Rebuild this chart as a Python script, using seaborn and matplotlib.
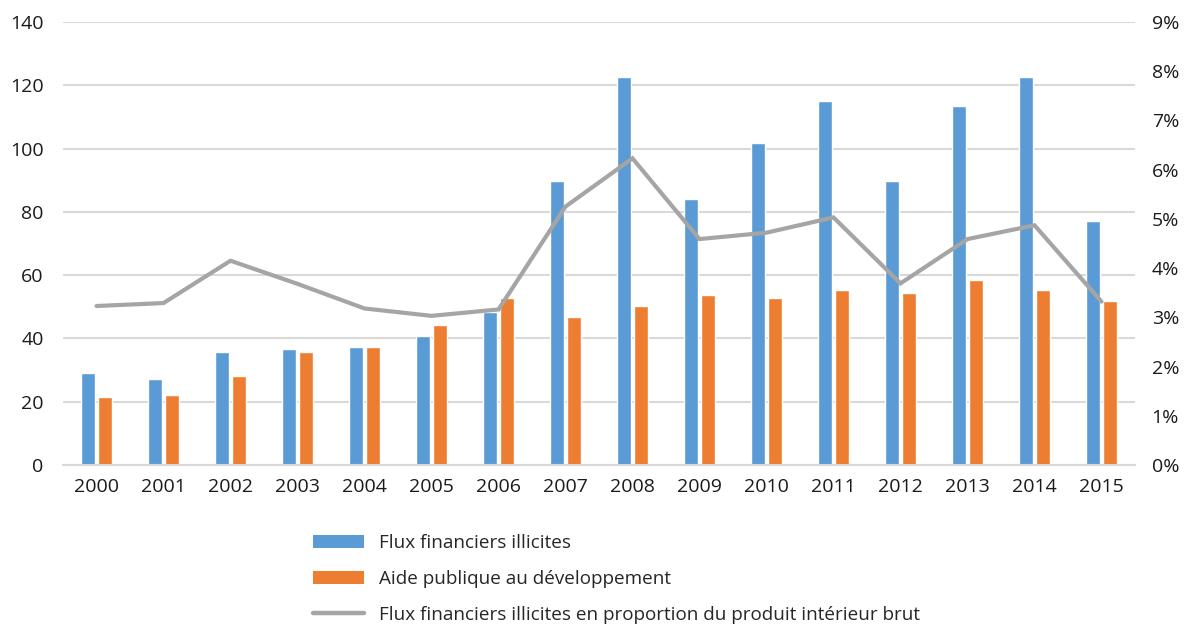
import matplotlib
matplotlib.use("Agg")
import matplotlib.pyplot as plt
import seaborn as sns
import pandas as pd
from matplotlib.patches import Patch
from matplotlib.lines import Line2D
from matplotlib.ticker import FuncFormatter

years = [str(y) for y in range(2000, 2016)]
flux_illicites = [29.1, 27.3, 35.8, 36.6, 37.4, 40.8, 48.4, 89.8, 122.6, 84.0, 101.7, 115.0, 89.8, 113.4, 122.6, 77.1]
aide_publique = [21.5, 22.2, 28.1, 35.8, 37.4, 44.2, 52.7, 46.7, 50.3, 53.6, 52.7, 55.2, 54.4, 58.6, 55.2, 51.8]
flux_pct_pib = [3.23, 3.29, 4.15, 3.68, 3.18, 3.03, 3.16, 5.25, 6.23, 4.59, 4.72, 5.03, 3.69, 4.59, 4.87, 3.32]

s_blue = "Flux financiers illicites"
s_orange = "Aide publique au développement"
s_line = "Flux financiers illicites en proportion du produit intérieur brut"

c_blue = "#5B9BD5"
c_orange = "#ED7D31"
c_gray = "#A5A5A5"

sns.set_theme(style="white")
plt.rcParams['font.family'] = ['Open Sans', 'DejaVu Sans']

df = pd.DataFrame({
    "year": years * 2,
    "value": flux_illicites + aide_publique,
    "serie": [s_blue] * len(years) + [s_orange] * len(years),
})

fig = plt.figure(figsize=(11.89, 6.30), dpi=100)
ax = fig.add_axes([63/1189, 1 - 465/630, (1135 - 63)/1189, (465 - 22)/630])

sns.barplot(data=df, x="year", y="value", hue="serie", order=years,
            hue_order=[s_blue, s_orange], palette=[c_blue, c_orange],
            width=0.5, gap=0.2, ax=ax, legend=False, errorbar=None,
            saturation=1)

ax.set_ylim(0, 140)
ax.set_yticks(range(0, 141, 20))
ax.set_xlim(-0.5, 15.5)
ax.yaxis.grid(True, color="#D9D9D9", linewidth=1.5)
ax.set_axisbelow(True)
for sp in ["top", "right", "left"]:
    ax.spines[sp].set_visible(False)
ax.spines["bottom"].set_color("#D9D9D9")
ax.spines["bottom"].set_linewidth(1.5)
ax.set_xlabel("")
ax.set_ylabel("")
ax.tick_params(axis="both", length=0, labelsize=14, colors="#1a1a1a")
ax.tick_params(axis="x", pad=9)
ax.tick_params(axis="y", pad=14)

ax2 = ax.twinx()
line_df = pd.DataFrame({"x": list(range(len(years))), "pct": flux_pct_pib})
sns.lineplot(data=line_df, x="x", y="pct", color=c_gray, linewidth=3.0, ax=ax2,
             solid_joinstyle="miter")
ax2.set_ylim(0, 9)
ax2.set_yticks(range(0, 10))
ax2.yaxis.set_major_formatter(FuncFormatter(lambda v, p: f"{int(v)}%"))
for sp in ["top", "right", "left", "bottom"]:
    ax2.spines[sp].set_visible(False)
ax2.set_xlabel("")
ax2.set_ylabel("")
ax2.tick_params(axis="y", length=0, labelsize=14, colors="#1a1a1a", pad=12)
ax2.set_xlim(-0.5, 15.5)

handles = [
    Patch(facecolor=c_blue, edgecolor="none"),
    Patch(facecolor=c_orange, edgecolor="none"),
    Line2D([0], [0], color=c_gray, linewidth=3.2, solid_capstyle="round"),
]
fig.legend(handles, [s_blue, s_orange, s_line], loc="upper left",
           bbox_to_anchor=(296/1189, 1 - 517/630), frameon=False,
           fontsize=13.6, handlelength=2.7, handleheight=0.7,
           labelspacing=0.95, handletextpad=0.8)

fig.savefig("out.png", dpi=100)
